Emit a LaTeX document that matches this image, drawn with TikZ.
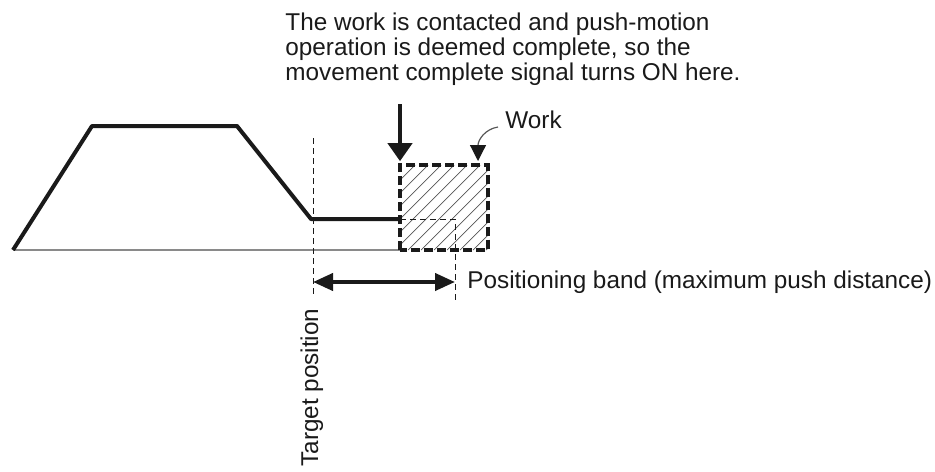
\documentclass[tikz,border=0pt]{standalone}
\usepackage{fontspec}
\setmainfont{Liberation Sans}
\usetikzlibrary{arrows.meta, positioning, calc}
\definecolor{InkDark}{HTML}{1A1A1A}
\definecolor{HatchGray}{HTML}{555555}
\definecolor{AxisGray}{HTML}{8A8A8A}

\begin{document}
\begin{tikzpicture}[x=0.5pt, y=-0.5pt, every node/.style={font=\fontsize{12.15}{12.5}\selectfont, text=InkDark, inner sep=0pt, align=left}]
                \useasboundingbox (0,0) rectangle (935,471);
                
                % Speed profile corners
                \coordinate (start) at (13,250);
                \coordinate (accel) at (92,126);
                \coordinate (decel) at (237,126);
                \coordinate (target) at (311,219);
                \coordinate (contact) at (400,219);
                
                \node[minimum width=43.5pt, minimum height=42pt, anchor=south west] (work) at (400,250) {};
                
                % Hatching of the work
                \begin{scope}
                    \clip (work.south west) rectangle (work.north east);
                    \foreach \hx in {330,343,...,500}
                        \draw[HatchGray, line width=0.35pt] (\hx,250) -- ++(90,-90);
                \end{scope}
                
                \draw[AxisGray, line width=0.6pt] (start) -- (work.south west);
                \draw[InkDark, line width=2pt, line join=round] (start) -- (accel) -- (decel) -- (target) -- (contact);
                \draw[InkDark, line width=0.5pt, dash pattern=on 3pt off 2pt] (contact) -- (455,219) coordinate (bandend) -- (455,300) coordinate (bandfoot);
                \draw[InkDark, line width=2pt, dash pattern=on 4.5pt off 2pt] (work.south west) rectangle (work.north east);
                
                % Target position
                \coordinate (targettop) at (313,138);
                \coordinate (targetfoot) at (313,296);
                \draw[InkDark, line width=0.5pt, dash pattern=on 3pt off 2pt] (targettop) -- (targetfoot);
                \node[rotate=90, anchor=base west] (tlabel) at (318,467) {Target position};
                
                % Positioning band
                \coordinate (bandl) at (313,282);
                \coordinate (bandr) at (455,282);
                \draw[{Triangle[length=10pt, width=8.5pt]}-{Triangle[length=10pt, width=8.5pt]}, line width=2pt, InkDark] (bandl) -- (bandr);
                \node[anchor=base west] (band) at (467,288) {Positioning band (maximum push distance)};
                
                % Complete signal
                \node[anchor=north west] (note) at (285,12.5) {The work is contacted and push-motion\\operation is deemed complete, so the\\movement complete signal turns ON here.};
                \coordinate (sigtop) at (400,104);
                \draw[-{Triangle[length=9pt, width=12pt]}, line width=2pt, InkDark] (sigtop) -- ([yshift=2pt]work.north west);
                
                % Work label
                \node[anchor=base west] (worklabel) at (505,128) {Work};
                \coordinate (worktail) at (498,127);
                \draw[-{Triangle[length=8pt, width=8pt, color=InkDark]}, line width=0.6pt, HatchGray] (worktail) .. controls (485,129) and (478,140) .. (478,161);
            \end{tikzpicture}
\end{document}
